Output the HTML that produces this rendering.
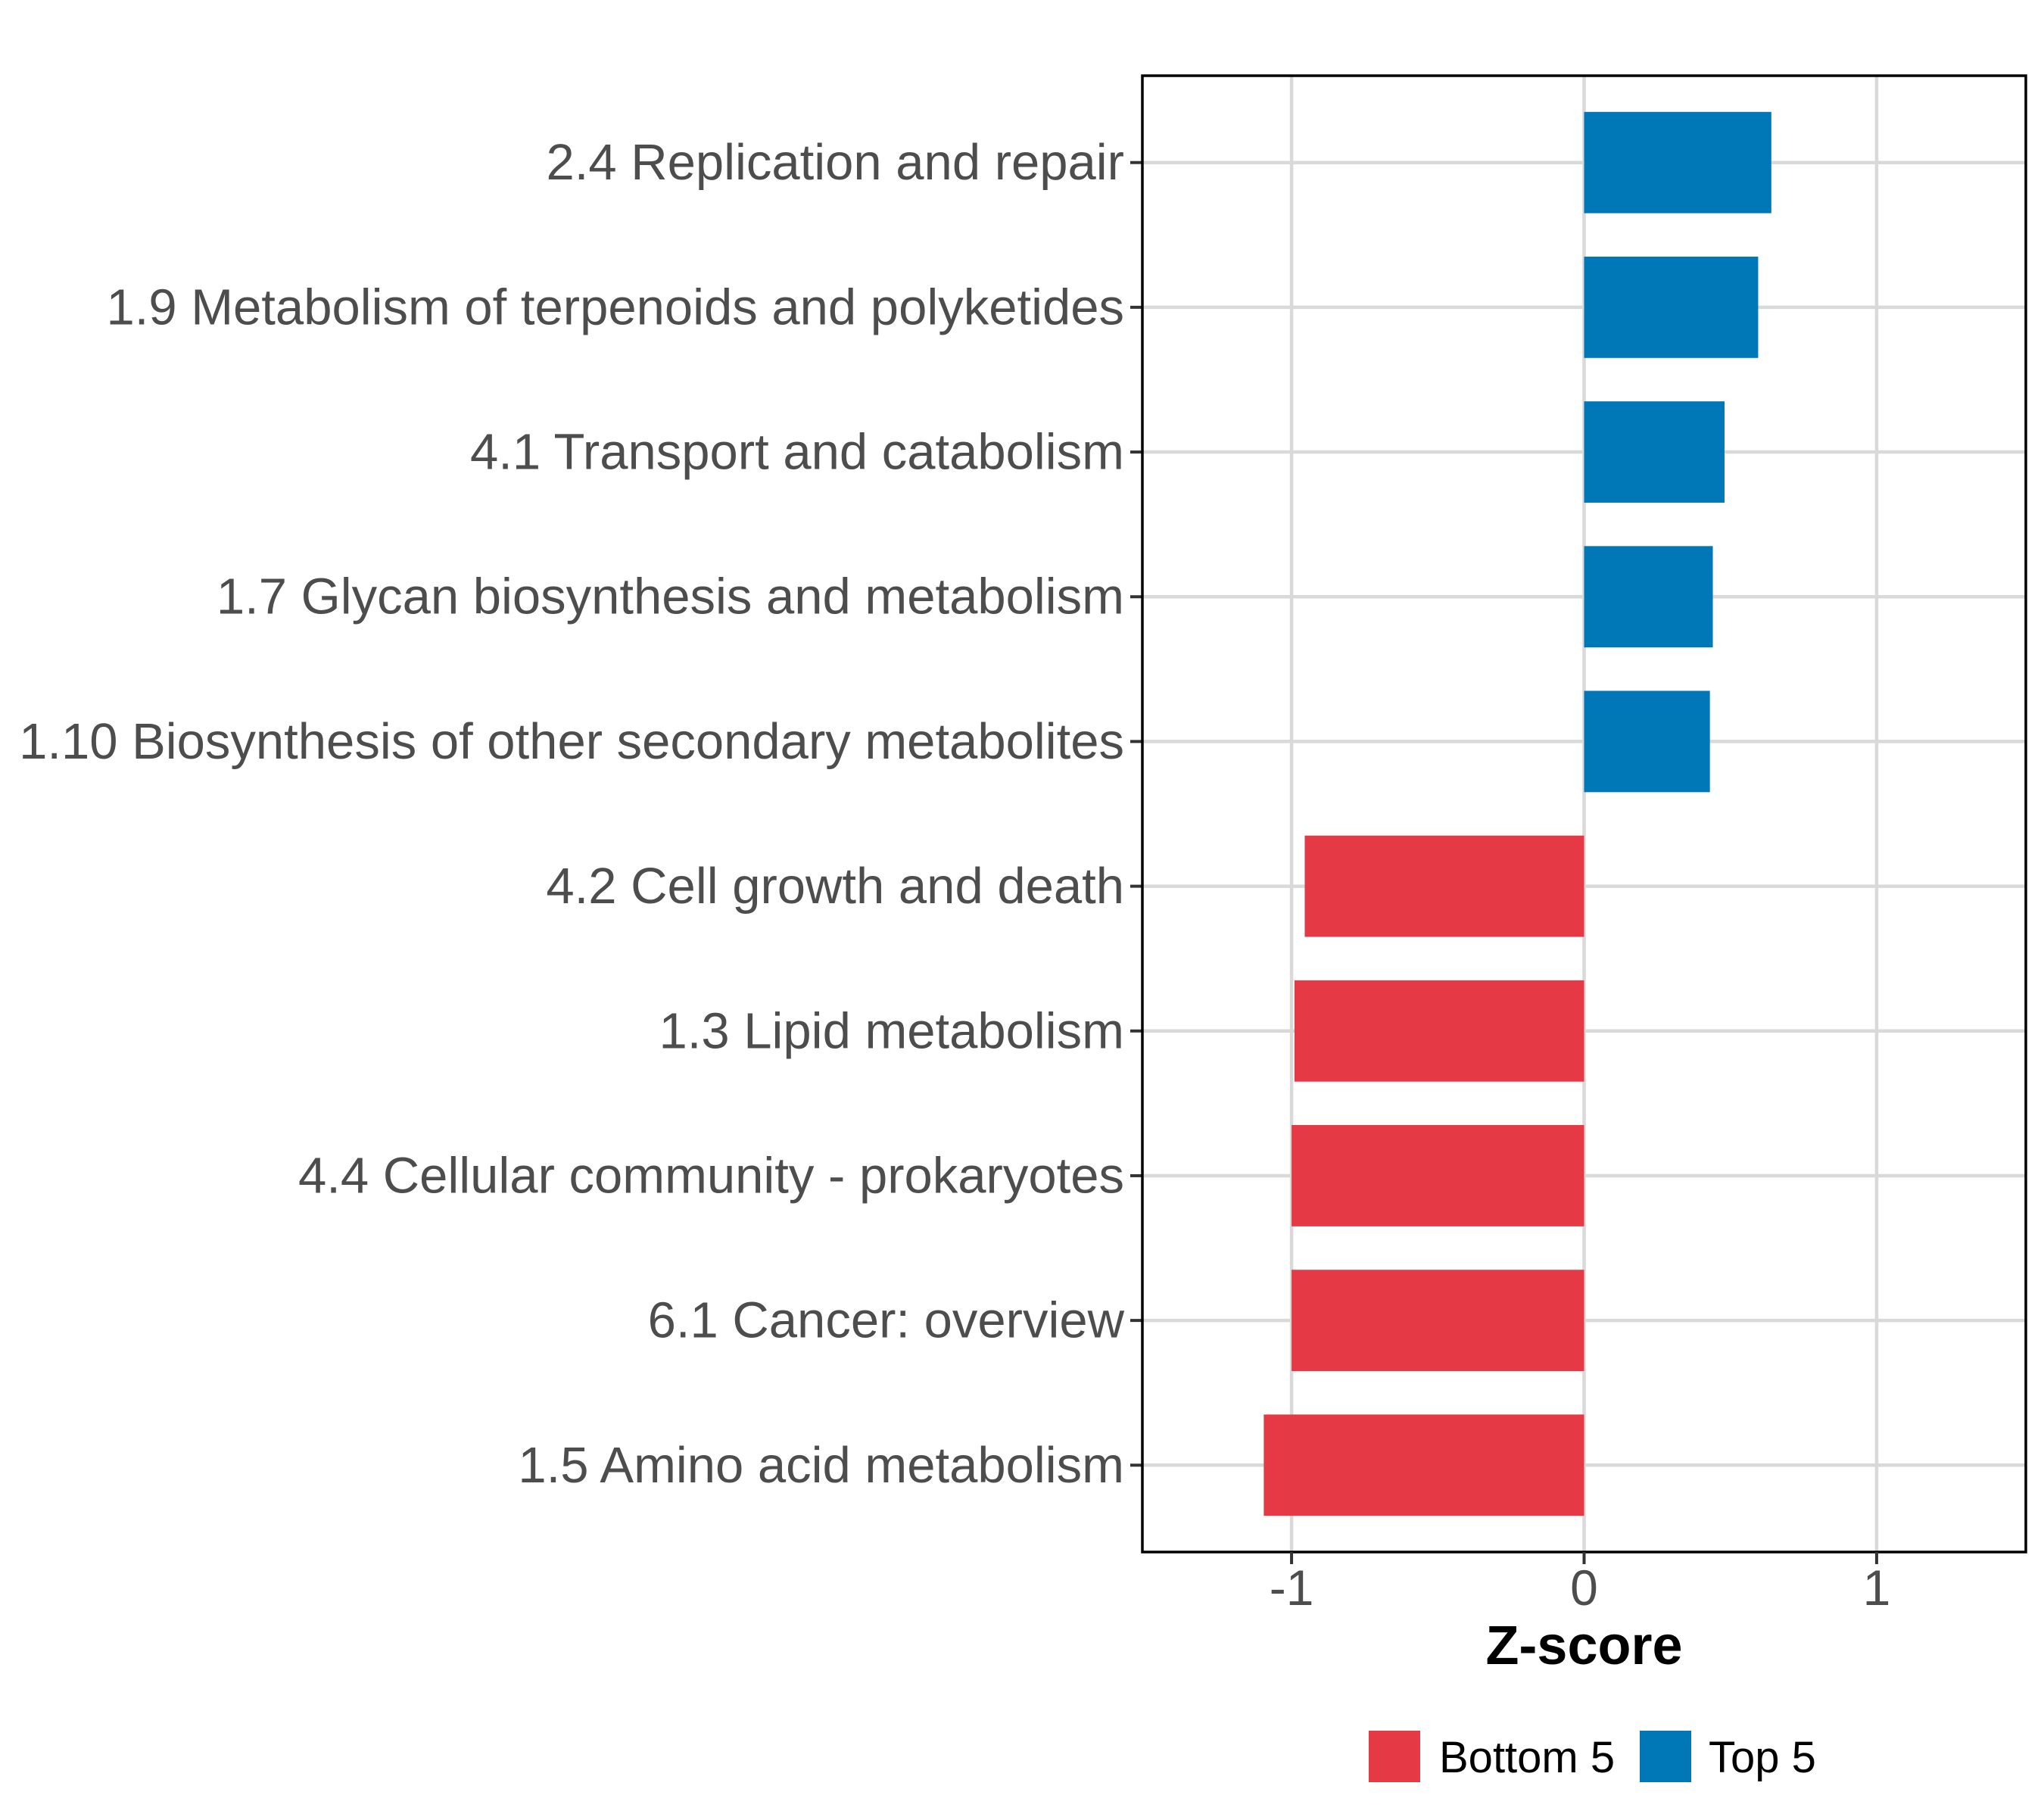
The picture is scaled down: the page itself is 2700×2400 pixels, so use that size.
<!DOCTYPE html>
<html><head><meta charset="utf-8"><style>
html,body{margin:0;padding:0;background:#fff}
svg{display:block;font-family:"Liberation Sans",Arial,sans-serif}
</style></head><body>
<svg id="chart" width="2700" height="2400" viewBox="0 0 2700 2400"></svg>
<script>
const categories = ["2.4 Replication and repair","1.9 Metabolism of terpenoids and polyketides","4.1 Transport and catabolism","1.7 Glycan biosynthesis and metabolism","1.10 Biosynthesis of other secondary metabolites","4.2 Cell growth and death","1.3 Lipid metabolism","4.4 Cellular community - prokaryotes","6.1 Cancer: overview","1.5 Amino acid metabolism"];
const values = [0.64,0.595,0.48,0.44,0.43,-0.955,-0.99,-1.0,-1.0,-1.095];
const groups = ["Top 5","Top 5","Top 5","Top 5","Top 5","Bottom 5","Bottom 5","Bottom 5","Bottom 5","Bottom 5"];
const xTicks = [-1,0,1];
const xTickLabels = ["-1","0","1"];
const legendLabels = ["Bottom 5","Top 5"];

const NS="http://www.w3.org/2000/svg";
const svg=document.getElementById('chart');
const L=1509,R=2676,T=100,B=2050;
const xMin=-1.51,xMax=1.51;
const colors={"Bottom 5":"#E63946","Top 5":"#0077B6"};
function x(v){return L+(v-xMin)/(xMax-xMin)*(R-L);}
const unit=(B-T)/(categories.length+0.2);
function y(i){return T+(0.6+i)*unit;}
function mk(tag,attrs,parent){const e=document.createElementNS(NS,tag);for(const k in attrs)e.setAttribute(k,attrs[k]);(parent||svg).appendChild(e);return e;}

mk('rect',{x:L,y:T,width:R-L,height:B-T,fill:'#fff'});
xTicks.forEach((t,i)=>{
  const g=mk('line',{x1:x(t),x2:x(t),y1:T,y2:B,stroke:'#D9D9D9','stroke-width':4.5});
  
  
});
categories.forEach((c,i)=>{
  const g=mk('line',{x1:L,x2:R,y1:y(i),y2:y(i),stroke:'#D9D9D9','stroke-width':4.5});
  
  
});
const bh=unit*0.7;
categories.forEach((c,i)=>{
  const v=values[i];
  const b=mk('rect',{x:Math.min(x(0),x(v)),y:y(i)-bh/2,width:Math.abs(x(v)-x(0)),height:bh,fill:colors[groups[i]]});
  
  
  const tk=mk('line',{x1:L-16,x2:L,y1:y(i),y2:y(i),stroke:'#333','stroke-width':4});
  
  
  const t=mk('text',{x:L-24,y:y(i),'text-anchor':'end','dominant-baseline':'central','font-size':67,fill:'#4D4D4D'});
  t.textContent=c;
  
  
});
const border=mk('rect',{x:L,y:T,width:R-L,height:B-T,fill:'none',stroke:'#000','stroke-width':3.5});


xTicks.forEach((t,i)=>{
  const tk=mk('line',{x1:x(t),x2:x(t),y1:B,y2:B+16,stroke:'#333','stroke-width':4});
  
  
  const lb=mk('text',{x:x(t),y:B+70,'text-anchor':'middle','font-size':66,fill:'#4D4D4D'});
  lb.textContent=xTickLabels[i];
  
  
});
const xt=mk('text',{x:x(0),y:2198,'text-anchor':'middle','font-size':72,'font-weight':'bold',fill:'#000'});
xt.textContent='Z-score';



const legX=[1808,2166],legTX=[1901,2257];
legendLabels.forEach((l,i)=>{
  const k=mk('rect',{x:legX[i],y:2286,width:68,height:68,fill:colors[l]});
  
  
  const t=mk('text',{x:legTX[i],y:2341,'font-size':58,fill:'#000'});
  t.textContent=l;
  
  
});
</script>
</body></html>
